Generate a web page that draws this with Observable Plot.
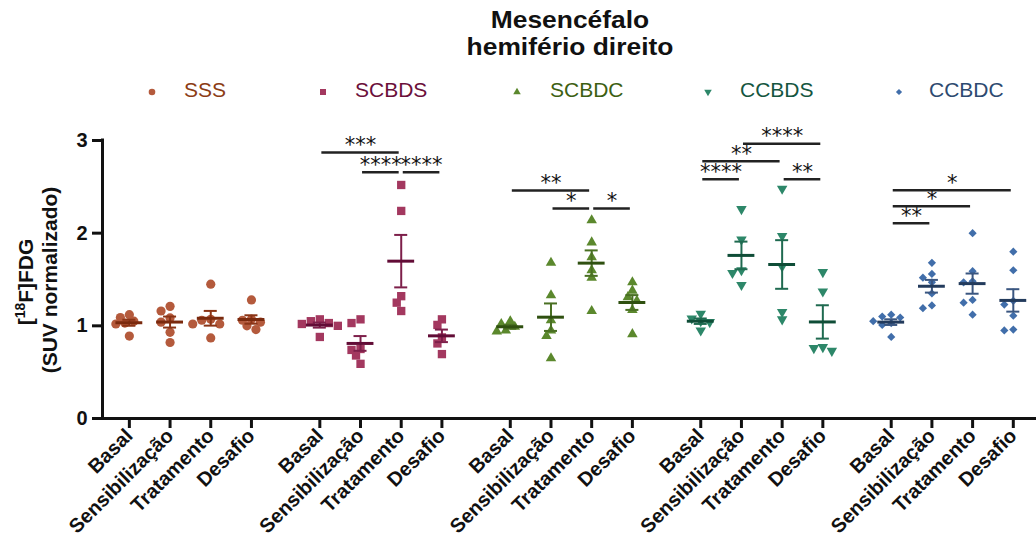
<!DOCTYPE html>
<html>
<head>
<meta charset="utf-8">
<script src="https://cdn.jsdelivr.net/npm/d3@7"></script>
<script src="https://cdn.jsdelivr.net/npm/@observablehq/plot@0.6"></script>
<style>
  body { margin: 0; background: #fff; width: 1036px; font-family: "Liberation Sans", Arial, sans-serif; }
  #head { position: relative; height: 110px; width: 1036px; }
  #title { position: absolute; left: 0; width: 1140px; top: 6px; text-align: center; font-weight: bold;
           font-size: 24px; line-height: 27px; color: #111; transform: scaleX(1.1); transform-origin: 570px 0; }
  #title div { width: 1140px; }
  .lg-sym { position: absolute; }
  .lg-txt { position: absolute; top: 80px; font-size: 21px; line-height: 20px; }
  svg { display: block; }
</style>
</head>
<body>
<div id="head">
  <div id="title"><div>Mesencéfalo</div><div>hemifério direito</div></div>
</div>
<div id="chart"></div>
<script>
// Time points (x categories within each group) and experimental groups
const TIMEPOINTS = ["Basal", "Sensibilização", "Tratamento", "Desafio"];
const GROUPS = ["SSS", "SCBDS", "SCBDC", "CCBDS", "CCBDC"];

// Normalised [18F]FDG SUV per animal, one list per time point
const SSS   = [[1.12, 1.09, 1.05, 1.03, 1.02, 0.89], [1.21, 1.16, 1.085, 1.04, 0.93, 0.82],
               [1.45, 1.07, 1.06, 1.02, 1.02, 0.87], [1.28, 1.07, 1.06, 1.04, 1.00, 0.96]];
const SCBDS = [[1.07, 1.05, 1.03, 1.02, 1.00, 0.88], [1.07, 1.03, 0.75, 0.74, 0.68, 0.59],
               [2.52, 2.24, 1.32, 1.25, 1.16], [1.07, 1.01, 0.875, 0.81, 0.695]];
const SCBDC = [[1.05, 1.02, 0.99, 0.95, 0.94], [1.68, 1.33, 1.06, 0.95, 0.89, 0.65],
               [2.14, 1.90, 1.74, 1.60, 1.52, 1.16], [1.47, 1.38, 1.31, 1.27, 1.17, 0.91]];
const CCBDS = [[1.13, 1.08, 1.05, 1.04, 0.95], [2.26, 1.93, 1.60, 1.57, 1.44],
               [2.48, 1.97, 1.64, 1.15, 1.07], [1.58, 1.37, 0.77, 0.76, 0.73]];
const CCBDC = [[1.12, 1.10, 1.09, 1.05, 1.03, 1.01, 0.88], [1.68, 1.56, 1.52, 1.47, 1.35, 1.22, 1.19],
               [2.00, 1.59, 1.48, 1.47, 1.28, 1.25, 1.12], [1.80, 1.60, 1.27, 1.23, 1.11, 0.96, 0.95]];
const VALUES = [SSS, SCBDS, SCBDC, CCBDS, CCBDC];

// Post-hoc comparisons: group, from, to, bracket height, stars
const SIGNIFICANCE = [
  ["SCBDS", "Basal", "Tratamento", 2.87, "***"],
  ["SCBDS", "Sensibilização", "Tratamento", 2.657, "****"],
  ["SCBDS", "Tratamento", "Desafio", 2.657, "****"],
  ["SCBDC", "Basal", "Tratamento", 2.46, "**"],
  ["SCBDC", "Sensibilização", "Tratamento", 2.265, "*"],
  ["SCBDC", "Tratamento", "Desafio", 2.265, "*"],
  ["CCBDS", "Sensibilização", "Desafio", 2.965, "****"],
  ["CCBDS", "Basal", "Tratamento", 2.776, "**"],
  ["CCBDS", "Basal", "Sensibilização", 2.582, "****"],
  ["CCBDS", "Tratamento", "Desafio", 2.582, "**"],
  ["CCBDC", "Basal", "Desafio", 2.463, "*"],
  ["CCBDC", "Basal", "Tratamento", 2.29, "*"],
  ["CCBDC", "Basal", "Sensibilização", 2.107, "**"]
];
const Y_TICKS = [0, 1, 2, 3];

// Styling per group
const POINT_COLORS = ["#b45a3c", "#a3385f", "#5b882d", "#2d8769", "#416eaa"];
const MEAN_COLORS  = ["#7a2a0e", "#620c36", "#2f5010", "#0f4d37", "#233b5c"];
const BAR_COLORS   = ["#8a3416", "#7d1f4a", "#4a7023", "#1f6a50", "#3a5680"];
const TEXT_COLORS  = ["#8c3c14", "#6b0f3a", "#3d5f12", "#15563f", "#2d4a70"];

const triangleDown = {
  draw(context, size) {
    const y = Math.sqrt(size / (Math.sqrt(3) * 3));
    context.moveTo(0, y * 2);
    context.lineTo(-Math.sqrt(3) * y, -y);
    context.lineTo(Math.sqrt(3) * y, -y);
    context.closePath();
  }
};
const SYMBOLS = [d3.symbolCircle, d3.symbolSquare, d3.symbolTriangle, triangleDown, d3.symbolDiamond2];
const RADII = [4.6, 4.7, 3.9, 3.9, 3.7];

// Plot geometry
const WIDTH = 1036, HEIGHT = 449, MT = 30, MB = 141, ML = 102, MR = 0;
const XMIN = -0.66, XMAX = 22.29, GSTEP = 4.68;
const XPX = (WIDTH - ML - MR) / (XMAX - XMIN);
const YPX = (HEIGHT - MT - MB) / 3;

const xPos = (g, t) => g * GSTEP + t;

// Spread overlapping points sideways (simple beeswarm in pixel space)
function spread(values) {
  const order = values.map((_, i) => i).sort((a, b) => values[b] - values[a]);
  const placed = [], off = values.map(() => 0);
  for (const i of order) {
    const yp = values[i] * YPX;
    for (let k = 0; k < 50; k++) {
      const cand = k === 0 ? 0 : (k % 2 ? -1 : 1) * Math.ceil(k / 2) * 4.5;
      if (placed.every(p => Math.hypot(p.x - cand, p.y - yp) >= 6.5)) {
        off[i] = cand; placed.push({x: cand, y: yp}); break;
      }
    }
  }
  return off;
}

const points = [], stats = [], tickLabel = new Map(), tickPositions = [];
GROUPS.forEach((grp, g) => {
  TIMEPOINTS.forEach((tp, t) => {
    const vals = VALUES[g][t];
    const pos = xPos(g, t);
    tickPositions.push(pos);
    tickLabel.set(pos, tp);
    const off = spread(vals);
    vals.forEach((v, i) => points.push({g, pos: pos + off[i] / XPX, value: v}));
    const mean = d3.mean(vals), sem = d3.deviation(vals) / Math.sqrt(vals.length);
    stats.push({g, pos, mean, lo: mean - sem, hi: mean + sem});
  });
});

const sig = SIGNIFICANCE.map(([grp, from, to, level, label]) => {
  const g = GROUPS.indexOf(grp);
  return {x1: xPos(g, TIMEPOINTS.indexOf(from)) + 0.05, x2: xPos(g, TIMEPOINTS.indexOf(to)) - 0.05, level, label};
});

const marks = [
  Plot.axisY({ticks: Y_TICKS, tickFormat: d => String(d), tickSize: 10, tickPadding: 5, strokeWidth: 3,
              fontSize: 20, fontWeight: "bold", label: null}),
  Plot.axisX({ticks: tickPositions, tickFormat: d => tickLabel.get(d), tickRotate: -45, tickSize: 10,
              tickPadding: 4, strokeWidth: 3, fontSize: 20, fontWeight: "bold", label: null}),
  Plot.ruleY([0], {strokeWidth: 3, stroke: "#111"}),
  Plot.ruleX([XMIN], {y1: 0, y2: 3, strokeWidth: 3, stroke: "#111", strokeLinecap: "square"})
];
GROUPS.forEach((grp, g) => {
  marks.push(Plot.dot(points.filter(d => d.g === g), {
    x: "pos", y: "value", symbol: SYMBOLS[g], r: RADII[g], fill: POINT_COLORS[g], stroke: "none"
  }));
});
GROUPS.forEach((grp, g) => {
  const s = stats.filter(d => d.g === g);
  marks.push(
    Plot.ruleX(s, {x: "pos", y1: "lo", y2: "hi", stroke: BAR_COLORS[g], strokeWidth: 2}),
    Plot.ruleY(s, {y: "hi", x1: d => d.pos - 0.16, x2: d => d.pos + 0.16, stroke: BAR_COLORS[g], strokeWidth: 2}),
    Plot.ruleY(s, {y: "lo", x1: d => d.pos - 0.16, x2: d => d.pos + 0.16, stroke: BAR_COLORS[g], strokeWidth: 2}),
    Plot.ruleY(s, {y: "mean", x1: d => d.pos - 0.33, x2: d => d.pos + 0.33, stroke: MEAN_COLORS[g], strokeWidth: 3})
  );
});
marks.push(
  Plot.ruleY(sig, {y: "level", x1: "x1", x2: "x2", stroke: "#222", strokeWidth: 2.5}),
  Plot.text(sig, {x: d => (d.x1 + d.x2) / 2, y: "level", text: "label", fontSize: 21,
                  fontFamily: "'DejaVu Sans', sans-serif", fontWeight: "normal", fill: "#111", dy: -7})
);

const chart = Plot.plot({
  width: WIDTH, height: HEIGHT,
  marginTop: MT, marginBottom: MB, marginLeft: ML, marginRight: MR,
  x: {type: "linear", domain: [XMIN, XMAX], axis: null},
  y: {domain: [0, 3], axis: null},
  style: {fontFamily: "'Liberation Sans', Arial, sans-serif", color: "#111", background: "#fff", overflow: "visible"},
  marks
});

// Two-line y-axis title with the superscript isotope number
const svg = d3.select(chart);
const yt = svg.append("g").attr("font-weight", "bold").attr("font-size", 21).attr("text-anchor", "middle").attr("fill", "#111");
const l1 = yt.append("text").attr("transform", "translate(33,172) rotate(-90)");
l1.append("tspan").text("[");
l1.append("tspan").attr("font-size", 14).attr("dy", -8).text("18");
l1.append("tspan").attr("dy", 8).text("F]FDG");
yt.append("text").attr("transform", "translate(57,170) rotate(-90)").text("(SUV normalizado)");

document.getElementById("chart").appendChild(chart);

// Legend row
const LEGEND_SYM_X = [152, 323, 517, 708, 899];
const LEGEND_TXT_X = [184, 355, 550, 740, 929];
const LEGEND_R = [3.3, 3.4, 2.8, 2.8, 2.8];
const head = d3.select("#head");
GROUPS.forEach((grp, g) => {
  const s = head.append("svg").attr("class", "lg-sym").attr("width", 14).attr("height", 14)
    .style("left", (LEGEND_SYM_X[g] - 7) + "px").style("top", (91.5 - 7) + "px");
  s.append("path").attr("transform", "translate(7,7)")
    .attr("d", d3.symbol(SYMBOLS[g], LEGEND_R[g] * LEGEND_R[g] * Math.PI)())
    .attr("fill", POINT_COLORS[g]);
  head.append("div").attr("class", "lg-txt").style("left", LEGEND_TXT_X[g] + "px")
    .style("color", TEXT_COLORS[g]).text(grp);
});
</script>
</body>
</html>
